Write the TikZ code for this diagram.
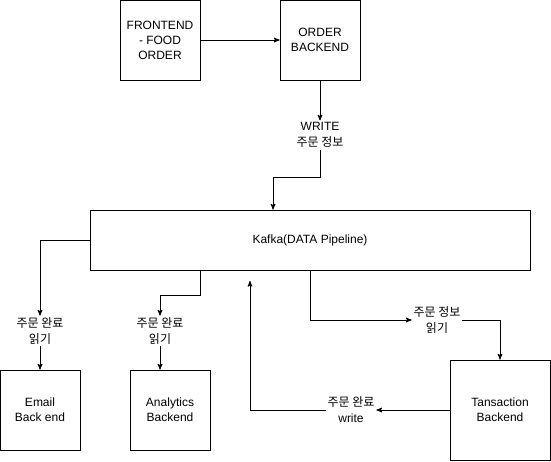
\documentclass[tikz,border=0pt]{standalone}
\usepackage{fontspec}
\setmainfont{Liberation Sans}
\newfontfamily\kr{Noto Sans CJK KR}
\usetikzlibrary{arrows}

\begin{document}
\begin{tikzpicture}[x=1pt,y=-1pt,->,>=stealth',line width=1pt,
  font=\fontsize{12}{15}\selectfont,
  box node/.style={rectangle,draw,fill=white,align=center,minimum width=80pt,minimum height=80pt,inner sep=0pt},
  label node/.style={align=center,inner sep=1.5pt,font=\fontsize{12}{16}\selectfont}]

  \useasboundingbox (0,0) rectangle (551,461);

  \node[box node] (frontend) at (160,40) {FRONTEND\\- FOOD\\ORDER};
  \node[box node] (order) at (320,40) {ORDER\\BACKEND};
  \node[label node] (write) at (320,135) {WRITE\\{\kr 주문 정보}};
  \node[box node,minimum width=440pt,minimum height=60pt] (kafka) at (310,240) {Kafka(DATA Pipeline)};
  \node[label node] (reademail) at (40,331) {{\kr 주문 완료}\\{\kr 읽기}};
  \node[box node] (email) at (40,410) {Email\\Back end};
  \node[label node] (readana) at (160,331) {{\kr 주문 완료}\\{\kr 읽기}};
  \node[box node] (analytics) at (170,410) {Analytics\\Backend};
  \node[label node] (readtrans) at (437,320) {{\kr 주문 정보}\\{\kr 읽기}};
  \node[box node,minimum width=100pt,minimum height=100pt] (trans) at (500,410) {Tansaction\\Backend};
  \node[label node] (donewrite) at (351,410) {{\kr 주문 완료}\\write};
  \coordinate (back) at (250,281);

  \path (frontend) edge (order)
        (order) edge (write)
        (reademail) edge (email)
        (trans) edge (donewrite);

  \draw (write.south) -- ++(0,28) -| ([xshift=-37pt]kafka.north);
  \draw (kafka.west) -| (reademail);
  \draw ([xshift=-110pt]kafka.south) -- ++(0,25) -| (readana);
  \draw (readana) -- (readana |- analytics.north);
  \draw (kafka.south) |- (readtrans);
  \draw (readtrans) -| (trans);
  \draw (donewrite) -| (back);

\end{tikzpicture}
\end{document}
